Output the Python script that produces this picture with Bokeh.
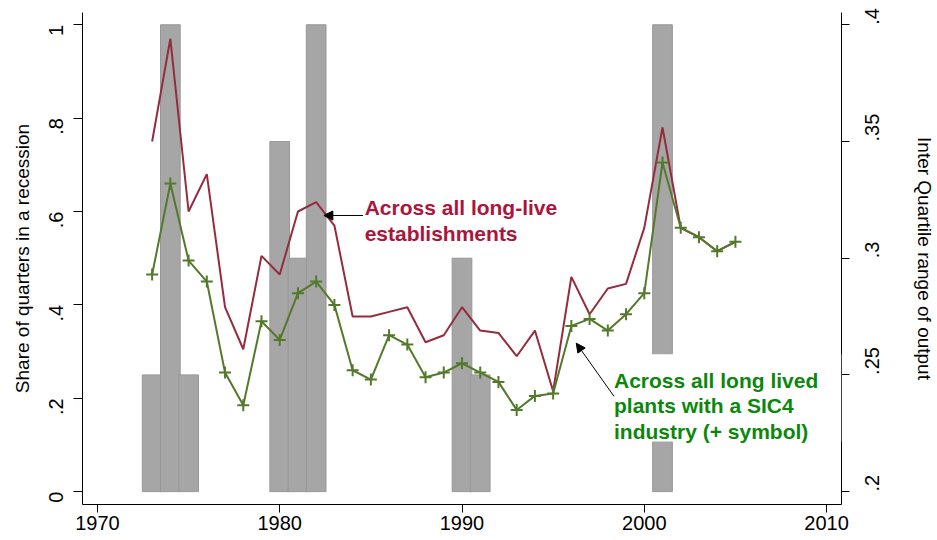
import math
from bokeh.plotting import figure
from bokeh.models import (ColumnDataSource, LinearAxis, Range1d, FixedTicker,
                          CustomJSTickFormatter, Label, Arrow, NormalHead, BoxAnnotation)
from bokeh.embed import file_html
from bokeh.resources import INLINE

# Recession share by year (left axis)
rec_years = [1973, 1974, 1975, 1980, 1981, 1982, 1990, 1991, 2001]
rec_share = [0.25, 1.0, 0.25, 0.75, 0.5, 1.0, 0.5, 0.25, 1.0]

# Inter quartile range of output (right axis)
years = list(range(1973, 2006))
iqr_estab = [0.350, 0.394, 0.320, 0.336, 0.279, 0.261, 0.301, 0.293, 0.320, 0.324,
             0.314, 0.275, 0.275, 0.277, 0.279, 0.264, 0.267, 0.279, 0.269, 0.268,
             0.258, 0.269, 0.243, 0.292, 0.276, 0.287, 0.289, 0.313, 0.356, 0.313,
             0.309, 0.303, 0.307]
iqr_sic4 = [0.293, 0.332, 0.299, 0.290, 0.251, 0.237, 0.273, 0.265, 0.285, 0.290,
            0.280, 0.252, 0.248, 0.267, 0.263, 0.249, 0.251, 0.255, 0.251, 0.247,
            0.235, 0.241, 0.242, 0.271, 0.274, 0.269, 0.276, 0.285, 0.341, 0.313,
            0.309, 0.303, 0.307]

red_line = "#952c3d"
green_line = "#527a2a"
red_text = "#ad1439"
green_text = "#0b880b"
font = "Liberation Sans"

ylo, yhi = -0.0276, 1.0263
p = figure(width=937, height=540, output_backend="svg", toolbar_location=None,
           x_range=Range1d(1969.18, 2010.82), y_range=Range1d(ylo, yhi),
           min_border_left=82, min_border_right=94, min_border_top=12, min_border_bottom=36)
p.outline_line_color = None
p.grid.visible = False
p.background_fill_color = "white"
p.border_fill_color = "white"

p.extra_y_ranges = {"iqr": Range1d(0.2 + 0.2 * ylo, 0.2 + 0.2 * yhi)}

fmt = CustomJSTickFormatter(code="""
    var s = String(Math.round(tick * 100) / 100);
    return s.replace(/^0\\./, ".");
""")

# bars
bars = ColumnDataSource(data=dict(x=rec_years, top=rec_share))
p.vbar(x='x', top='top', bottom=0, width=1.08, source=bars,
       fill_color="#a6a6a6", line_color="#979797", line_width=1)

# lines
src = ColumnDataSource(data=dict(x=years, estab=iqr_estab, sic4=iqr_sic4))
p.line('x', 'estab', source=src, color=red_line, line_width=2, y_range_name="iqr")
p.line('x', 'sic4', source=src, color=green_line, line_width=2, y_range_name="iqr")
p.scatter('x', 'sic4', source=src, marker="cross", size=12, line_color=green_line,
          line_width=2, y_range_name="iqr")

# axes
xa = p.xaxis[0]
xa.ticker = FixedTicker(ticks=[1970, 1980, 1990, 2000, 2010])
xa.minor_tick_line_color = None
xa.major_tick_in = 0
xa.major_tick_out = 8
xa.major_label_standoff = 3
xa.major_label_text_font = font
xa.major_label_text_font_size = "20px"
xa.major_label_text_color = "black"
xa.axis_line_color = "black"

ya = p.yaxis[0]
ya.ticker = FixedTicker(ticks=[0, 0.2, 0.4, 0.6, 0.8, 1.0])
ya.formatter = fmt
ya.minor_tick_line_color = None
ya.major_tick_in = 0
ya.major_tick_out = 9
ya.major_label_standoff = 17
ya.major_label_orientation = math.pi / 2
ya.major_label_text_font = font
ya.major_label_text_font_size = "20px"
ya.major_label_text_color = "black"
ya.axis_line_color = "black"
ya.axis_label = "Share of quarters in a recession"
ya.axis_label_text_font = font
ya.axis_label_text_font_size = "19px"
ya.axis_label_text_font_style = "normal"
ya.axis_label_text_color = "black"
ya.axis_label_standoff = 7

ra = LinearAxis(y_range_name="iqr", ticker=FixedTicker(ticks=[0.2, 0.25, 0.3, 0.35, 0.4]),
                formatter=fmt, axis_label="Inter Quartile range of output")
ra.minor_tick_line_color = None
ra.major_tick_in = 0
ra.major_tick_out = 8
ra.major_label_standoff = 23
ra.major_label_orientation = math.pi / 2
ra.major_label_text_font = font
ra.major_label_text_font_size = "20px"
ra.major_label_text_color = "black"
ra.axis_line_color = "black"
ra.axis_label_text_font = font
ra.axis_label_text_font_size = "19px"
ra.axis_label_text_font_style = "normal"
ra.axis_label_text_color = "black"
ra.axis_label_standoff = 24
p.add_layout(ra, "right")

# white box behind the green note
p.add_layout(BoxAnnotation(left=1997.8, right=2010.82, bottom=0.1073, top=0.294,
                           fill_color="white", fill_alpha=1, line_color=None))

# notes
for txt, yy in [("Across all long-live", 0.6093), ("establishments", 0.5535)]:
    p.add_layout(Label(x=1984.66, y=yy, text=txt, text_font=font, text_font_size="21px",
                       text_font_style="bold", text_color=red_text, text_baseline="alphabetic"))
for txt, yy in [("Across all long lived", 0.2380), ("plants with a SIC4", 0.1845),
                ("industry (+ symbol)", 0.1288)]:
    p.add_layout(Label(x=1998.34, y=yy, text=txt, text_font=font, text_font_size="21px",
                       text_font_style="bold", text_color=green_text, text_baseline="alphabetic"))

p.add_layout(Arrow(x_start=1984.57, y_start=0.5915, x_end=1982.42, y_end=0.5915,
                   line_color="black", line_width=1,
                   end=NormalHead(size=9, fill_color="black", line_color="black")))
p.add_layout(Arrow(x_start=1998.34, y_start=0.204, x_end=1996.27, y_end=0.318,
                   line_color="black", line_width=1,
                   end=NormalHead(size=9, fill_color="black", line_color="black")))

open("out.html", "w").write(file_html(p, INLINE))
